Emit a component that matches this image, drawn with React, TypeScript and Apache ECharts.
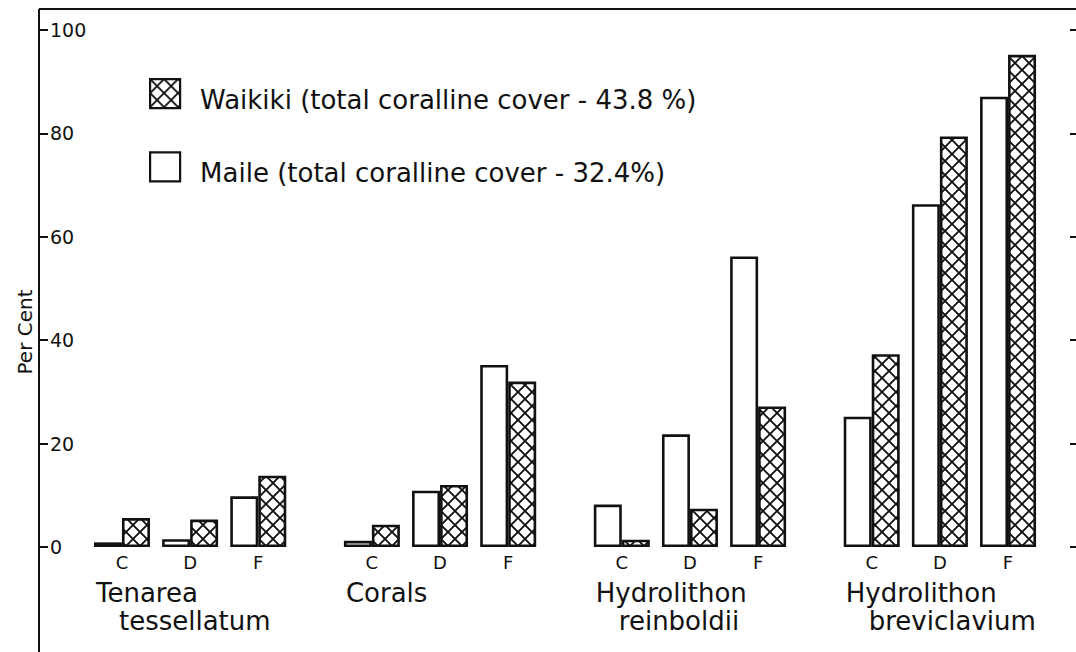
import React, { useEffect, useRef } from "react";
import * as echarts from "echarts";

// ---- data ----
const groupLine1 = ["Tenarea", "Corals", "Hydrolithon", "Hydrolithon"];
const groupLine2 = ["tessellatum", "", "reinboldii", "breviclavium"];
const habitats = ["C", "D", "F"];
// order: group by group, C, D, F
const maileValues = [0.9, 1.5, 9.8, 1.2, 10.9, 35.2, 8.2, 21.8, 56.2, 25.2, 66.3, 87.1];
const waikikiValues = [5.6, 5.3, 13.8, 4.3, 12.0, 32.0, 1.4, 7.4, 27.2, 37.3, 79.4, 95.2];
const maileName = "Maile (total coralline cover - 32.4%)";
const waikikiName = "Waikiki (total coralline cover - 43.8 %)";
const yAxisTitle = "Per Cent";
const yMin = 0;
const yMax = 100;
const yStep = 20;

// ---- layout helpers ----
const SLOT_STEP = 3; // slots between habitats inside a group
const GROUP_STEP = 5; // slots between last habitat of a group and first of next
const INK = "#111";
const FONT = "DejaVu Sans";
// legend box drawn in the upper part of a taller icon area so the text sits lower
const LEGEND_ICON = "path://M0,0L30,0L30,29L0,29Z M0,41";

function buildSlots() {
  const labels: string[] = [];
  const maile: (number | string)[] = [];
  const waikiki: (number | string)[] = [];
  const firstSlot: number[] = [];
  const pushEmpty = (n: number) => {
    for (let k = 0; k < n; k++) {
      labels.push("");
      maile.push("-");
      waikiki.push("-");
    }
  };
  groupLine1.forEach((_, g) => {
    if (g > 0) pushEmpty(GROUP_STEP - 1);
    firstSlot.push(labels.length);
    habitats.forEach((h, s) => {
      if (s > 0) pushEmpty(SLOT_STEP - 1);
      const idx = g * habitats.length + s;
      labels.push(h);
      maile.push(maileValues[idx]);
      waikiki.push(waikikiValues[idx]);
    });
  });
  return { labels, maile, waikiki, firstSlot };
}

function makeHatch(): HTMLCanvasElement {
  const c = document.createElement("canvas");
  c.width = 14;
  c.height = 14;
  const ctx = c.getContext("2d")!;
  ctx.fillStyle = "#fff";
  ctx.fillRect(0, 0, 14, 14);
  ctx.strokeStyle = INK;
  ctx.lineWidth = 1.9;
  ctx.beginPath();
  ctx.moveTo(-2, -2);
  ctx.lineTo(16, 16);
  ctx.moveTo(16, -2);
  ctx.lineTo(-2, 16);
  ctx.stroke();
  return c;
}

export default function App() {
  const ref = useRef<HTMLDivElement>(null);

  useEffect(() => {
    if (!ref.current) return;
    const chart = echarts.init(ref.current, undefined, { renderer: "svg" });
    const { labels, maile, waikiki, firstSlot } = buildSlots();
    const hatch = { image: makeHatch(), repeat: "repeat", imageWidth: 14, imageHeight: 14 };

    const W = 1076;
    const H = 652;
    const gridLeft = 110.6;
    const gridRight = 56.6;
    const gridTop = 30;
    const gridBottom = 105;
    const frameX = 39;
    const frameY = 9;

    const option: any = {
      animation: false,
      backgroundColor: "#fff",
      textStyle: { fontFamily: FONT, color: INK },
      grid: { left: gridLeft, right: gridRight, top: gridTop, bottom: gridBottom },
      legend: {
        orient: "vertical",
        left: 149,
        top: 78,
        padding: 0,
        icon: LEGEND_ICON,
        itemWidth: 30,
        itemHeight: 41,
        itemGap: 30,
        data: [waikikiName, maileName],
        itemStyle: { borderColor: INK, borderWidth: 2.2 },
        textStyle: {
          fontFamily: FONT,
          fontSize: 26,
          color: INK,
          padding: [0, 0, 0, 15],
        },
      },
      xAxis: {
        type: "category",
        data: labels,
        axisLine: { show: false },
        axisTick: { show: false },
        axisLabel: {
          interval: 0,
          fontSize: 18,
          fontFamily: FONT,
          color: INK,
          margin: 6,
        },
      },
      yAxis: [
        {
          type: "value",
          min: yMin,
          max: yMax,
          interval: yStep,
          position: "left",
          offset: gridLeft - frameX,
          axisLine: { show: false },
          axisTick: { show: true, inside: true, length: 9, lineStyle: { color: INK, width: 2 } },
          axisLabel: { inside: true, margin: 11, fontSize: 19, fontFamily: FONT, color: INK },
          splitLine: { show: false },
        },
        {
          type: "value",
          min: yMin,
          max: yMax,
          interval: yStep,
          position: "right",
          offset: gridRight,
          axisLine: { show: false },
          axisTick: { show: true, inside: true, length: 6, lineStyle: { color: INK, width: 2 } },
          axisLabel: { show: false },
          splitLine: { show: false },
        },
      ],
      series: [
        {
          name: maileName,
          type: "bar",
          data: maile,
          barWidth: 28,
          barGap: "0%",
          clip: false,
          itemStyle: { color: "#fff", borderColor: INK, borderWidth: 2.6 },
        },
        {
          name: waikikiName,
          type: "bar",
          data: waikiki,
          barWidth: 28,
          barGap: "0%",
          clip: false,
          itemStyle: { color: hatch, borderColor: INK, borderWidth: 2.6 },
        },
      ],
    };
    chart.setOption(option);

    const elements: any[] = [
      {
        type: "line",
        shape: { x1: frameX, y1: frameY, x2: frameX, y2: H },
        style: { stroke: INK, lineWidth: 2 },
      },
      {
        type: "line",
        shape: { x1: frameX, y1: frameY, x2: W, y2: frameY },
        style: { stroke: INK, lineWidth: 2 },
      },
      {
        type: "text",
        x: 25,
        y: 332,
        rotation: Math.PI / 2,
        style: {
          text: yAxisTitle,
          fontFamily: FONT,
          fontSize: 20,
          fill: INK,
          align: "center",
          verticalAlign: "middle",
        },
      },
    ];
    groupLine1.forEach((t, g) => {
      const cx = chart.convertToPixel({ xAxisIndex: 0 }, firstSlot[g]) as number;
      elements.push({
        type: "text",
        x: cx - 26,
        y: 593,
        style: { text: t, fontFamily: FONT, fontSize: 26, fill: INK, align: "left", verticalAlign: "middle" },
      });
      if (groupLine2[g]) {
        elements.push({
          type: "text",
          x: cx - 26 + 23,
          y: 621,
          style: {
            text: groupLine2[g],
            fontFamily: FONT,
            fontSize: 26,
            fill: INK,
            align: "left",
            verticalAlign: "middle",
          },
        });
      }
    });
    chart.setOption({ graphic: { elements } });

    return () => chart.dispose();
  }, []);

  return (
    <div
      ref={ref}
      style={{ position: "fixed", left: 0, top: 0, width: 1076, height: 652, background: "#fff" }}
    />
  );
}
